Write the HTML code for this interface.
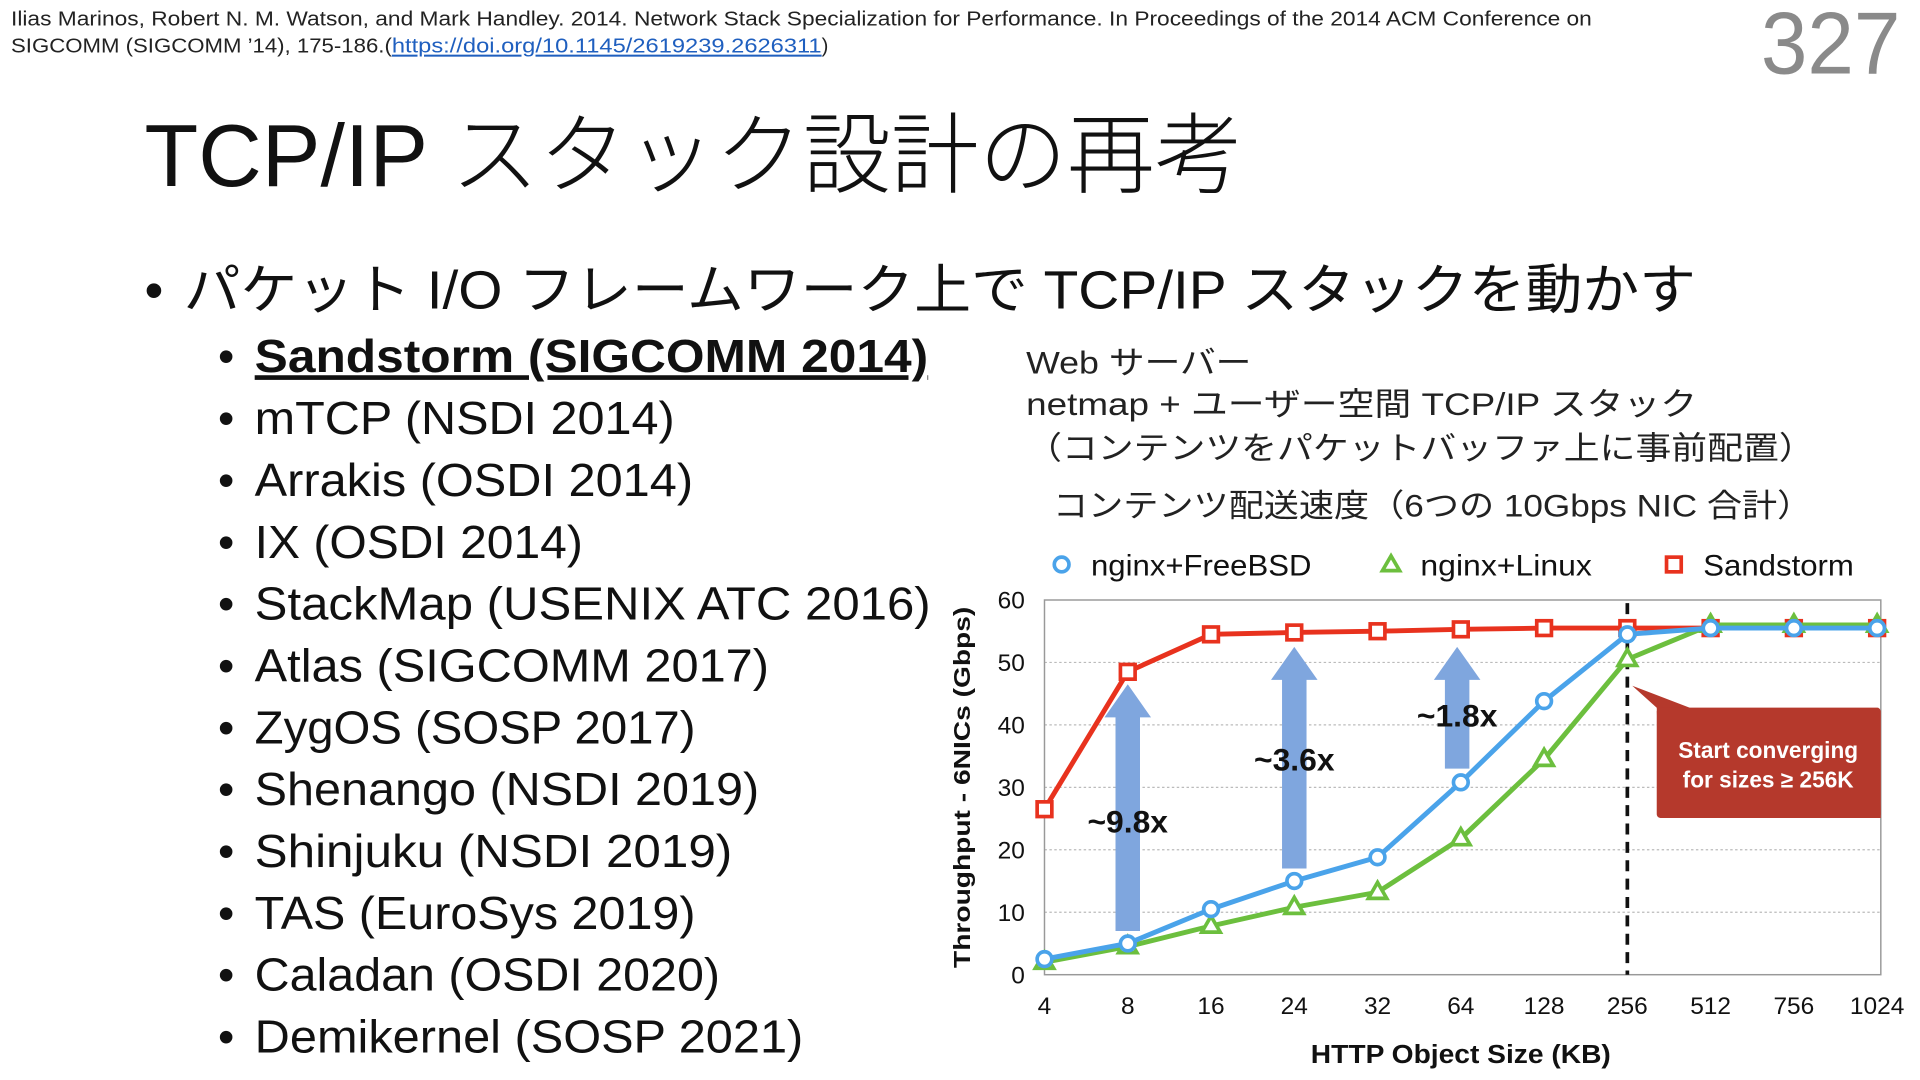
<!DOCTYPE html>
<html><head><meta charset="utf-8"><style>
html,body{margin:0;padding:0;background:#fff;overflow:hidden}
svg{display:block}
.jp{font-family:"Liberation Sans","Noto Sans CJK JP",sans-serif}
</style></head><body>
<svg id="page" width="1920" height="1080" viewBox="0 0 1568 882" preserveAspectRatio="none" xmlns="http://www.w3.org/2000/svg" class="jp">
<rect width="1568" height="882" fill="#fff"/>
<g font-size="16.5" fill="#222">
<text x="9" y="21" textLength="1291" lengthAdjust="spacingAndGlyphs">Ilias Marinos, Robert N. M. Watson, and Mark Handley. 2014. Network Stack Specialization for Performance. In Proceedings of the 2014 ACM Conference on</text>
<text x="9" y="43" textLength="311" lengthAdjust="spacingAndGlyphs">SIGCOMM (SIGCOMM ’14), 175-186.(</text>
<text x="320" y="43" fill="#1f5fbf" text-decoration="underline" textLength="351" lengthAdjust="spacingAndGlyphs">https://doi.org/10.1145/2619239.2626311</text>
<text x="671" y="43">)</text>
</g>
<text x="1438" y="60" font-size="72" fill="#8a8a8a" textLength="114" lengthAdjust="spacingAndGlyphs">327</text>
<text x="118" y="152" font-size="72" font-weight="300" fill="#111" textLength="897" lengthAdjust="spacingAndGlyphs">TCP/IP スタック設計の再考</text>
<g font-size="44" fill="#111">
<text x="118" y="252">•</text>
<text x="150" y="252" textLength="1235" lengthAdjust="spacingAndGlyphs">パケット I/O フレームワーク上で TCP/IP スタックを動かす</text>
</g>
<g id="subs" font-size="38" fill="#111"></g>
<g font-size="26" fill="#222">
<text x="838" y="305" textLength="184" lengthAdjust="spacingAndGlyphs">Web サーバー</text>
<text x="838" y="339" textLength="548" lengthAdjust="spacingAndGlyphs">netmap + ユーザー空間 TCP/IP スタック</text>
<text x="838" y="375" textLength="644" lengthAdjust="spacingAndGlyphs">（コンテンツをパケットバッファ上に事前配置）</text>
<text x="860" y="422" textLength="620" lengthAdjust="spacingAndGlyphs">コンテンツ配送速度（6つの 10Gbps NIC 合計）</text>
</g>
<g id="chart"></g>
</svg>
<script>
var NS="http://www.w3.org/2000/svg";
function mk(tag,attrs,parent,txt){var e=document.createElementNS(NS,tag);for(var k in attrs)e.setAttribute(k,attrs[k]);if(txt!==undefined)e.textContent=txt;parent.appendChild(e);return e;}
// sub bullets
var subItems=["Sandstorm (SIGCOMM 2014)","mTCP (NSDI 2014)","Arrakis (OSDI 2014)","IX (OSDI 2014)","StackMap (USENIX ATC 2016)","Atlas (SIGCOMM 2017)","ZygOS (SOSP 2017)","Shenango (NSDI 2019)","Shinjuku (NSDI 2019)","TAS (EuroSys 2019)","Caladan (OSDI 2020)","Demikernel (SOSP 2021)"];
var subW=[550,343,358,268,552,420,360,412,390,360,380,448];
var subs=document.getElementById('subs');
subItems.forEach(function(s,i){
  var y=304+i*50.5;
  var b=mk('text',{x:178,y:y},subs,'•');
  
  
  var t=mk('text',{x:208,y:y,textLength:subW[i],lengthAdjust:'spacingAndGlyphs'},subs,s);
  if(i===0){t.setAttribute('font-weight','bold');t.setAttribute('text-decoration','underline');}
  
  
});
// chart data
var categories=["4","8","16","24","32","64","128","256","512","756","1024"];
var yTicks=[0,10,20,30,40,50,60];
var freebsd=[2.5,5,10.5,15,18.8,30.8,43.8,54.5,55.5,55.5,55.5];
var linux=[2,4.5,7.8,10.8,13.2,21.8,34.5,50.5,56,56,56];
var sandstorm=[26.5,48.5,54.5,54.8,55,55.3,55.5,55.5,55.5,55.5,55.5];
var arrowFrom=[1,3,5];
var arrowLabels=["~9.8x","~3.6x","~1.8x"];
var arrowBottoms=[7,17,33];
var arrowTops=[46.5,52.5,52.5];
var arrowLabelVals=[24.5,34.5,41.5];
var convergeIdx=7;
var X0=853,DX=68,Y0=796,PY=5.1;
function xs(i){return X0+i*DX;}
function ys(v){return Y0-v*PY;}
var ch=document.getElementById('chart');
// frame & grid
yTicks.forEach(function(v){
  if(v>0&&v<60){var g=mk('line',{x1:X0,x2:1536,y1:ys(v),y2:ys(v),stroke:'#bbb','stroke-width':1,'stroke-dasharray':'2 2'},ch);
  }
  var t=mk('text',{x:837,y:ys(v)+7,'font-size':20,'text-anchor':'end',fill:'#111'},ch,String(v));
  
});
var fr=mk('rect',{x:X0,y:ys(60),width:1536-X0,height:60*PY,fill:'none',stroke:'#999','stroke-width':1.2},ch);

categories.forEach(function(c,i){
  var t=mk('text',{x:xs(i),y:828,'font-size':20,'text-anchor':'middle',fill:'#111'},ch,c);
  
});
var yt=mk('text',{x:0,y:0,'font-size':19,'font-weight':'bold','text-anchor':'middle',fill:'#111',transform:'translate(792,643) rotate(-90)',textLength:295,lengthAdjust:'spacingAndGlyphs'},ch,'Throughput - 6NICs (Gbps)');

var xt=mk('text',{x:1193,y:868,'font-size':21,'font-weight':'bold','text-anchor':'middle',fill:'#111',textLength:245,lengthAdjust:'spacingAndGlyphs'},ch,'HTTP Object Size (KB)');

// dashed line
var dl=mk('line',{x1:xs(convergeIdx),x2:xs(convergeIdx),y1:ys(59.5),y2:ys(0),stroke:'#111','stroke-width':3,'stroke-dasharray':'9 6'},ch);

// series
function series(vals,color,kind,name){
  var g=mk('g',{},ch);
  
  var pts=vals.map(function(v,i){return xs(i)+','+ys(v);}).join(' ');
  mk('polyline',{points:pts,fill:'none',stroke:color,'stroke-width':4,'stroke-linejoin':'round'},g);
  vals.forEach(function(v,i){
    var x=xs(i),y=ys(v),m;
    if(kind==='c')m=mk('circle',{cx:x,cy:y,r:6,fill:'#fff',stroke:color,'stroke-width':3},g);
    else if(kind==='s')m=mk('rect',{x:x-6,y:y-6,width:12,height:12,fill:'#fff',stroke:color,'stroke-width':3},g);
    else m=mk('polygon',{points:(x)+','+(y-8)+' '+(x-7.5)+','+(y+5)+' '+(x+7.5)+','+(y+5),fill:'#fff',stroke:color,'stroke-width':3},g);
    
  });
}
series(sandstorm,'#e8321e','s','series-sandstorm');
series(linux,'#6cbf3e','t','series-nginx-linux');
series(freebsd,'#4aa3ea','c','series-nginx-freebsd');
// arrows
arrowFrom.forEach(function(i,k){
  var x=xs(i)-(k===2?3:0),yb=ys(arrowBottoms[k]),yt2=ys(arrowTops[k]);
  var a=mk('polygon',{points:[(x-10)+','+yb,(x+10)+','+yb,(x+10)+','+(yt2+27),(x+19)+','+(yt2+27),x+','+yt2,(x-19)+','+(yt2+27),(x-10)+','+(yt2+27)].join(' '),fill:'#7fa6de'},ch);
  
  var l=mk('text',{x:x,y:ys(arrowLabelVals[k])+9,'font-size':26,'font-weight':'bold','text-anchor':'middle',fill:'#111'},ch,arrowLabels[k]);
  
});
// callout
var cg=mk('g',{},ch);

mk('polygon',{points:'1333,560 1380,578 1534,578 1536,668 1356,668 1353,578',fill:'#b5392c'},cg);
mk('rect',{x:1353,y:578,width:183,height:90,rx:3,fill:'#b5392c'},cg);
mk('text',{x:1444,y:619,'font-size':18.5,'font-weight':'bold','text-anchor':'middle',fill:'#fff'},cg,'Start converging');
mk('text',{x:1444,y:643,'font-size':18.5,'font-weight':'bold','text-anchor':'middle',fill:'#fff'},cg,'for sizes ≥ 256K');
// legend
var lg=mk('g',{},ch);

var legNames=["nginx+FreeBSD","nginx+Linux","Sandstorm"];
var legX=[867,1136,1367],legW=[180,140,123],legC=['#4aa3ea','#6cbf3e','#e8321e'];
legNames.forEach(function(n,i){
  var e=mk('g',{},lg);
  
  var x=legX[i],y=461;
  if(i===0)mk('circle',{cx:x,cy:y,r:6,fill:'#fff',stroke:legC[i],'stroke-width':3},e);
  else if(i===1)mk('polygon',{points:x+','+(y-7)+' '+(x-7)+','+(y+5)+' '+(x+7)+','+(y+5),fill:'#fff',stroke:legC[i],'stroke-width':3},e);
  else mk('rect',{x:x-6,y:y-6,width:12,height:12,fill:'#fff',stroke:legC[i],'stroke-width':3},e);
  mk('text',{x:x+24,y:470,'font-size':24,fill:'#111',textLength:legW[i],lengthAdjust:'spacingAndGlyphs'},e,n);
});
</script>
</body></html>
